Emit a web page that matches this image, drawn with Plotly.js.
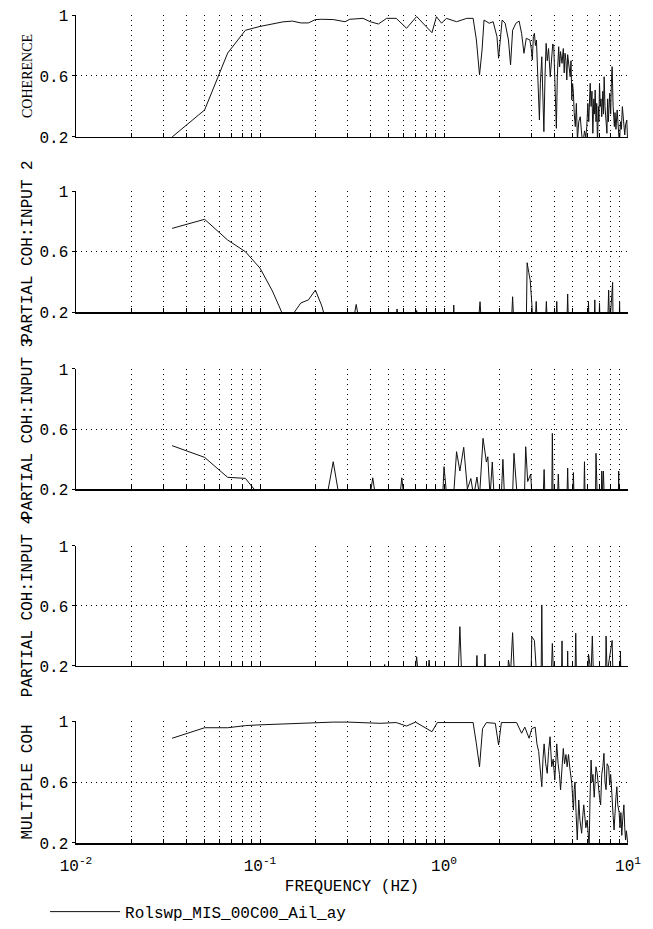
<!DOCTYPE html>
<html>
<head>
<meta charset="utf-8">
<script src="https://cdn.plot.ly/plotly-3.0.1.min.js"></script>
<style>
html,body{margin:0;padding:0;background:#fff;}
#chart{width:653px;height:929px;}
</style>
</head>
<body>
<div id="chart"></div>
<script>
// ---------- data (frequency in Hz, coherence values) ----------
const coh_f = [0.0333,0.05,0.0667,0.0833,0.1,0.1167,0.1333,0.15,0.1667,0.1833,0.2,0.2167,0.25,0.29,0.308,0.363,0.397,0.44,0.488,0.55,0.626,0.71,0.77,0.86,0.91,0.97,1.03,1.17,1.33,1.44,1.5,1.56,1.61,1.65,1.76,1.85,1.94,1.98,2.07,2.15,2.24,2.3,2.36,2.46,2.56,2.64,2.72,2.8,
  2.93,2.98,3.02,3.06,3.1,3.14,3.18,3.22,3.27,3.3,3.34,3.4,3.44,3.49,3.54,3.59,3.64,3.7,3.78,3.84,3.9,3.95,4.0,4.04,4.08,4.13,4.2,4.25,4.3,4.38,4.45,4.5,4.55,4.6,4.65,4.7,4.78,4.85,4.9,4.95,5.0,5.05,5.1,5.17,5.24,5.31,5.4,5.5,5.6,5.69,5.8,5.9,5.97,6.05,6.12,6.23,6.3,6.37,6.44,6.52,6.58,6.63,6.7,6.76,6.83,6.9,6.95,7.0,7.07,7.13,7.2,7.3,7.36,7.42,7.5,7.6,7.68,7.75,7.82,7.95,8.05,8.12,8.2,8.3,8.36,8.43,8.5,8.6,8.73,8.85,8.98,9.1,9.2,9.32,9.45,9.6,9.7,9.85,9.93,10];
const coh_v = [0.2,0.377,0.75,0.90,0.925,0.94,0.955,0.96,0.948,0.948,0.97,0.972,0.97,0.956,0.972,0.978,0.956,0.941,0.978,0.978,0.913,0.99,0.946,0.884,0.989,0.946,0.978,0.956,0.978,0.978,0.836,0.607,0.77,0.967,0.946,0.956,0.858,0.716,0.967,0.946,0.836,0.672,0.90,0.946,0.96,0.88,0.749,0.847,
  0.836,0.78,0.705,0.86,0.88,0.80,0.836,0.62,0.45,0.311,0.55,0.726,0.5,0.235,0.6,0.814,0.7,0.78,0.595,0.72,0.81,0.792,0.55,0.4,0.257,0.6,0.792,0.66,0.76,0.683,0.78,0.62,0.749,0.7,0.574,0.74,0.66,0.595,0.7,0.443,0.55,0.487,0.36,0.268,0.42,0.18,0.3,0.333,0.22,0.15,0.24,0.2,0.268,0.42,0.3,0.552,0.4,0.5,0.224,0.45,0.35,0.508,0.3,0.42,0.15,0.4,0.3,0.552,0.4,0.45,0.333,0.5,0.35,0.595,0.4,0.3,0.224,0.45,0.3,0.487,0.35,0.55,0.661,0.4,0.3,0.268,0.36,0.25,0.377,0.3,0.15,0.3,0.25,0.399,0.3,0.213,0.28,0.311,0.2,0.15];

const pc2_f = [0.0333,0.05,0.0667,0.0833,0.1,0.1167,0.1333,0.15,0.1667,0.1833,0.2,0.2167,0.2333, 0.3167,0.3333,0.35, 0.54,0.556,0.57, 0.69,0.71,0.73, 1.12,1.13,1.14, 1.53,1.57,1.6, 2.32,2.36,2.4, 2.8,2.83,2.89,2.94,3.0,3.05,3.12,3.17,3.22, 3.55,3.6,3.65, 4.05,4.1,4.15, 4.65,4.7,4.75, 6.05,6.1,6.15, 6.55,6.6,6.65, 6.95,7.0,7.05, 7.75,7.85,7.95,8.25,8.3, 8.95,9.0,9.05];
const pc2_v = [0.753,0.813,0.676,0.599,0.49,0.34,0.18,0.18,0.26,0.28,0.345,0.24,0.1, 0.1,0.25,0.1, 0.1,0.22,0.1, 0.1,0.21,0.1, 0.1,0.246,0.1, 0.1,0.268,0.1, 0.1,0.301,0.1, 0.1,0.526,0.46,0.412,0.26,0.1,0.1,0.27,0.1, 0.1,0.27,0.1, 0.1,0.27,0.1, 0.1,0.319,0.1, 0.1,0.27,0.1, 0.1,0.28,0.1, 0.1,0.26,0.1, 0.1,0.345,0.1,0.396,0.1, 0.1,0.27,0.1];

const pc3_f = [0.0333,0.05,0.0667,0.0833,0.1, 0.2333,0.25,0.2667, 0.39,0.41,0.43, 0.57,0.59,0.61, 0.98,1.0,1.03, 1.12,1.17,1.22,1.28,1.34,1.4,1.45,1.51,1.56,1.63,1.7,1.73,1.78,1.83,1.88, 2.04,2.09,2.14, 2.35,2.4,2.5, 2.73,2.78,2.85,2.96,3.02, 3.45,3.5,3.55, 3.85,3.88,3.92, 4.13,4.18,4.24, 4.65,4.7,4.75, 5.0,5.05,5.1, 5.75,5.8,5.85, 6.65,6.7,6.8, 7.15,7.2,7.25,7.35,7.45, 8.85,8.9,8.95];
const pc3_v = [0.489,0.411,0.278,0.271,0.15, 0.18,0.382,0.18, 0.1,0.275,0.1, 0.1,0.275,0.1, 0.1,0.349,0.18, 0.1,0.449,0.32,0.478,0.2,0.27,0.15,0.28,0.15,0.538,0.38,0.415,0.15,0.38,0.1, 0.1,0.398,0.1, 0.1,0.438,0.15, 0.1,0.482,0.25,0.3,0.1, 0.1,0.33,0.1, 0.1,0.571,0.1, 0.1,0.3,0.1, 0.1,0.34,0.1, 0.1,0.31,0.1, 0.1,0.382,0.1, 0.1,0.438,0.15, 0.1,0.32,0.15,0.32,0.1, 0.1,0.32,0.1];

const pc4_f = [0.46,0.476,0.49, 0.69,0.71,0.73, 0.81,0.83,0.85, 1.19,1.22,1.25, 1.49,1.51,1.53, 1.65,1.67,1.69, 2.21,2.24,2.3,2.36,2.42, 2.97,3.0,3.1,3.2, 3.37,3.4,3.43, 3.82,3.88,3.95, 4.35,4.38,4.41, 4.67,4.7,4.73, 5.15,5.2,5.25, 6.05,6.1,6.3,6.4,6.5, 7.55,7.6,7.7,8.2,8.3, 9.05,9.1,9.15];
const pc4_v = [0.1,0.21,0.1, 0.1,0.262,0.1, 0.1,0.24,0.1, 0.1,0.462,0.1, 0.1,0.27,0.1, 0.1,0.28,0.1, 0.1,0.24,0.15,0.422,0.1, 0.1,0.395,0.37,0.1, 0.1,0.607,0.1, 0.1,0.35,0.1, 0.1,0.367,0.1, 0.1,0.3,0.1, 0.1,0.418,0.1, 0.1,0.28,0.15,0.4,0.1, 0.1,0.4,0.15,0.37,0.1, 0.1,0.3,0.1];

const mc_f = [0.0333,0.05,0.0667,0.0833,0.1,0.15,0.2,0.25,0.3,0.35,0.45,0.55,0.626,0.7,0.86,0.92,1.0,1.2,1.44,1.5,1.56,1.62,1.7,1.9,1.98,2.05,2.3,2.48,2.64,2.75,2.9,
  3.0,3.13,3.2,3.27,3.33,3.37,3.4,3.45,3.5,3.57,3.64,3.7,3.77,3.85,3.92,4.0,4.05,4.1,4.17,4.24,4.3,4.37,4.45,4.52,4.6,4.67,4.75,4.82,4.9,4.95,5.0,5.05,5.1,5.15,5.22,5.3,5.35,5.4,5.48,5.55,5.6,5.68,5.75,5.8,5.9,6.0,6.08,6.15,6.22,6.3,6.38,6.45,6.55,6.62,6.7,6.8,6.9,7.0,7.1,7.2,7.3,7.4,7.5,7.6,7.7,7.85,7.95,8.05,8.1,8.2,8.3,8.4,8.5,8.6,8.7,8.8,8.95,9.05,9.15,9.25,9.35,9.5,9.6,9.7,9.8,9.9,10];
const mc_v = [0.887,0.956,0.956,0.97,0.975,0.983,0.99,0.993,0.993,0.99,0.985,0.99,0.967,0.993,0.93,0.99,0.99,0.993,0.99,0.85,0.70,0.95,0.99,0.985,0.843,0.99,0.99,0.99,0.92,0.96,0.887,
  0.95,0.96,0.85,0.8,0.70,0.62,0.569,0.75,0.85,0.72,0.657,0.8,0.897,0.7,0.75,0.613,0.75,0.85,0.72,0.65,0.548,0.7,0.82,0.72,0.78,0.7,0.78,0.7,0.65,0.591,0.5,0.416,0.55,0.6,0.4,0.22,0.35,0.482,0.35,0.3,0.264,0.38,0.45,0.4,0.3,0.35,0.25,0.18,0.5,0.744,0.6,0.65,0.5,0.62,0.7,0.657,0.55,0.5,0.45,0.65,0.7,0.788,0.6,0.55,0.72,0.7,0.58,0.65,0.6,0.45,0.38,0.285,0.45,0.5,0.569,0.45,0.4,0.3,0.4,0.25,0.35,0.45,0.3,0.22,0.28,0.2,0.18];

const panelTitles = ['COHERENCE','PARTIAL COH:INPUT 2','PARTIAL COH:INPUT 3','PARTIAL COH:INPUT 4','MULTIPLE COH'];
const seriesName = 'Rolswp_MIS_00C00_Ail_ay';
const xTitle = 'FREQUENCY (HZ)';
const yTickVals = [0.2,0.6,1];
const yTickText = ['0.2','0.6','1'];
const xTickVals = [0.01,0.02,0.03,0.04,0.05,0.06,0.07,0.08,0.09,0.1,0.2,0.3,0.4,0.5,0.6,0.7,0.8,0.9,1,2,3,4,5,6,7,8,9,10];
const xTickText = ['10<sup>-2</sup>','','','','','','','','','10<sup>-1</sup>','','','','','','','','','10<sup>0</sup>','','','','','','','','','10<sup>1</sup>'];

// ---------- build ----------
const series = [[coh_f,coh_v],[pc2_f,pc2_v],[pc3_f,pc3_v],[pc4_f,pc4_v],[mc_f,mc_v]];
const domains = [[0.8527,1.0],[0.6413,0.7874],[0.4275,0.5725],[0.2138,0.3587],[0,0.1473]];
const MONO = '"Liberation Mono", "Courier New", monospace';
const SERIF = '"Liberation Serif", "Times New Roman", serif';

const traces = series.map((s,i)=>({
  type:'scatter', mode:'lines',
  x:s[0], y:s[1],
  xaxis: i===0?'x':'x'+(i+1),
  yaxis: i===0?'y':'y'+(i+1),
  line:{color:'#111', width:1},
  name: seriesName,
  showlegend: i===0,
  hoverinfo:'skip'
}));

const layout = {
  width:653, height:929,
  margin:{l:76, r:25, t:15, b:86, autoexpand:false},
  paper_bgcolor:'#fff', plot_bgcolor:'#fff',
  font:{family:MONO, size:16, color:'#000'},
  showlegend:true,
  legend:{orientation:'h', x:-0.056, xanchor:'left', y:-0.083, yanchor:'middle',
          font:{family:MONO, size:16, color:'#000'}, bgcolor:'rgba(0,0,0,0)', itemwidth:70}
};

for(let i=0;i<5;i++){
  const xk = i===0?'xaxis':'xaxis'+(i+1);
  const yk = i===0?'yaxis':'yaxis'+(i+1);
  const yid = i===0?'y':'y'+(i+1);
  const xid = i===0?'x':'x'+(i+1);
  layout[xk] = {
    type:'log', range:[-2,1], domain:[0,1], anchor:yid, automargin:false,
    tickmode:'array', tickvals:xTickVals, ticktext:xTickText,
    showticklabels: i===4,
    ticks:'inside', ticklen:4, tickcolor:'#000', tickwidth:1,
    showgrid:true, gridcolor:'#000', gridwidth:1, griddash:'1px,4px',
    showline:true, linecolor:'#000', linewidth:1.5, zeroline:false,
    tickfont:{family:MONO, size:16, color:'#000'},
    ticklabelstandoff:7,
    fixedrange:true
  };
  if(i===4){
    layout[xk].title = {text:xTitle, font:{family:MONO, size:16, color:'#000'}, standoff:5};
  }
  layout[yk] = {
    range:[0.2,1], domain:domains[i], anchor:xid, automargin:false,
    tickmode:'array', tickvals:yTickVals, ticktext:yTickText,
    ticks:'outside', ticklen:3, tickcolor:'#000',
    showgrid:true, gridcolor:'#000', gridwidth:1, griddash:'1px,4px',
    showline:true, linecolor:'#000', linewidth:1.5, zeroline:false,
    tickfont:{family:MONO, size:16, color:'#000'},
    title:{text:panelTitles[i], standoff:3,
           font:{family: i===0 ? SERIF : MONO, size: i===0 ? 14 : 16, color:'#000'}},
    fixedrange:true
  };
}

Plotly.newPlot('chart', traces, layout, {displayModeBar:false, staticPlot:true});
</script>
</body>
</html>
